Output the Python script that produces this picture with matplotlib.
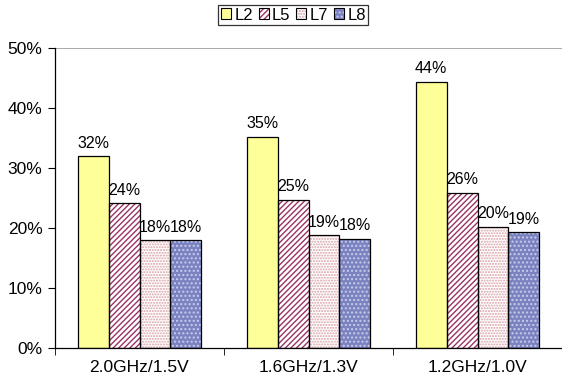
import numpy as np
import matplotlib.pyplot as plt

plt.rcParams['font.family'] = ['Liberation Sans', 'DejaVu Sans']
plt.rcParams['hatch.linewidth'] = 1.0

configs = ["2.0GHz/1.5V", "1.6GHz/1.3V", "1.2GHz/1.0V"]
series = ["L2", "L5", "L7", "L8"]
l2 = [32.0, 35.2, 44.4]
l5 = [24.1, 24.7, 25.9]
l7 = [18.0, 18.8, 20.2]
l8 = [18.0, 18.2, 19.3]
values = [l2, l5, l7, l8]

faces = ["#ffff99", "white", "white", "#7a82c0"]
hatches = [None, "//////", "......", "...."]
hatch_cols = ["#ffff99", "#993366", "#d8a0a8", "#c8ccec"]

fig = plt.figure(figsize=(5.62, 3.81), dpi=100)
ax = fig.add_axes([55/562, 33/381, 507/562, 300/381])

x = np.arange(len(configs))
w = 0.183
handles = []
for i, (name, vals) in enumerate(zip(series, values)):
    pos = x + (i - 1.5) * w
    ax.bar(pos, vals, w, color=faces[i], hatch=hatches[i],
           edgecolor=hatch_cols[i], linewidth=0, zorder=2)
    ax.bar(pos, vals, w, fill=False, edgecolor="black", linewidth=0.9, zorder=3)
    # legend key: hatched fill with a black frame on top
    fill = plt.Rectangle((0, 0), 1, 1, facecolor=faces[i], hatch=hatches[i],
                         edgecolor=hatch_cols[i], linewidth=0)
    frame = plt.Rectangle((0, 0), 1, 1, fill=False, edgecolor="black",
                          linewidth=0.8)
    handles.append((fill, frame))
    for p, v in zip(pos, vals):
        ax.text(p, v + 0.9, f"{round(v):.0f}%", ha="center", va="bottom",
                fontsize=11.5)

ax.set_xlim(-0.5, 2.5)
ax.set_ylim(0, 50)
ax.set_yticks(np.arange(0, 51, 10))
ax.set_yticklabels([f"{t}%" for t in range(0, 51, 10)], fontsize=12.5)
ax.set_xticks(x)
ax.set_xticklabels(configs, fontsize=12.5)
ax.set_xticks([-0.5, 0.5, 1.5, 2.5], minor=True)
ax.tick_params(axis="x", which="major", length=0, pad=9)
ax.tick_params(axis="x", which="minor", length=5, direction="out")
ax.tick_params(axis="y", length=5, direction="out", pad=4)
ax.axhline(50, color="#999999", linewidth=1.2, zorder=1)
for s in ["top", "right"]:
    ax.spines[s].set_visible(False)
ax.spines["left"].set_linewidth(0.9)
ax.spines["bottom"].set_linewidth(0.9)

leg = fig.legend(handles, series, loc="upper center", bbox_to_anchor=(0.522, 1.0),
                 ncol=4, fontsize=12, frameon=True, fancybox=False,
                 edgecolor="black", handlelength=0.6, handleheight=0.6,
                 handletextpad=0.2, columnspacing=0.35, borderpad=0.15,
                 borderaxespad=0.3)
leg.get_frame().set_linewidth(0.9)

fig.savefig("out.png", dpi=100)
